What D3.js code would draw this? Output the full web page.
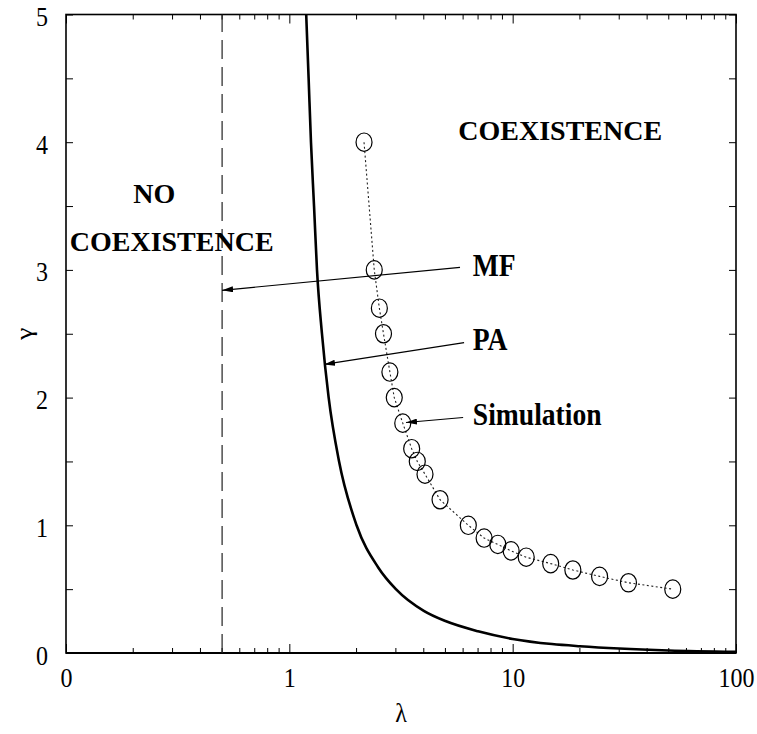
<!DOCTYPE html>
<html>
<head>
<meta charset="utf-8">
<script src="https://cdn.jsdelivr.net/npm/d3@7/dist/d3.min.js"></script>
<style>
  body { margin: 0; background: #fff; }
  svg { display: block; }
  text { font-family: "Liberation Serif", "Times New Roman", serif; }
</style>
</head>
<body>
<div id="chart"></div>
<script>

// simulation points
var lambdaSim = [2.16, 2.40, 2.53, 2.64, 2.82, 2.95, 3.22, 3.53, 3.74, 4.05, 4.73, 6.33, 7.45, 8.58, 9.84, 11.5, 14.8, 18.6, 24.5, 33.0, 52.1];
var gammaSim  = [4.0, 3.0, 2.7, 2.5, 2.2, 2.0, 1.8, 1.6, 1.5, 1.4, 1.2, 1.0, 0.9, 0.85, 0.8, 0.75, 0.7, 0.65, 0.6, 0.55, 0.5];

// PA curve
var lambdaPA = [1.19, 1.22, 1.25, 1.29, 1.33, 1.4, 1.5, 1.67, 2.0, 2.5, 3.0, 4.0, 5.0, 7.0, 10, 15, 20, 30, 50, 100];
var gammaPA  = [5.0, 4.5, 4.0, 3.5, 3.0, 2.5, 2.0, 1.5, 1.0, 0.67, 0.5, 0.33, 0.25, 0.17, 0.11, 0.07, 0.053, 0.035, 0.02, 0.01];

// MF line
var lambdaMF = 0.5;

// ticks
var xTicks = [0.1, 1, 10, 100];
var xTickLabels = ["0", "1", "10", "100"];
var yTicks = [0, 0.5, 1, 1.5, 2, 2.5, 3, 3.5, 4, 4.5, 5];
var yTickLabels = ["0", "", "1", "", "2", "", "3", "", "4", "", "5"];

// annotations: text and arrows, in data units
var labelText   = ["COEXISTENCE", "NO", "COEXISTENCE", "MF", "PA", "Simulation"];
var labelLambda = [5.71, 0.2, 0.104, 6.63, 6.63, 6.63];
var labelGamma  = [4.02, 3.52, 3.15, 2.95, 2.37, 1.785];
var arrowFromL = [5.81, 6.06, 6.0];
var arrowFromG = [3.02, 2.43, 1.844];
var arrowToL   = [0.5, 1.43, 3.33];
var arrowToG   = [2.84, 2.26, 1.805];

var fullWidth = 757, fullHeight = 734;
var margin = {top: 14.5, right: 21, bottom: 81, left: 66};
var width = fullWidth - margin.left - margin.right;
var height = fullHeight - margin.top - margin.bottom;

var svg = d3.select("#chart").append("svg")
  .attr("width", fullWidth)
  .attr("height", fullHeight);

var g = svg.append("g")
  .attr("transform", "translate(" + margin.left + "," + margin.top + ")");

var xScale = d3.scaleLog().domain([0.1, 100]).range([0, width]);
var yScale = d3.scaleLinear().domain([0, 5]).range([height, 0]);

// arrow head
svg.append("defs").append("marker")
  .attr("id", "arr")
  .attr("markerUnits", "userSpaceOnUse")
  .attr("viewBox", "0 0 11 6")
  .attr("markerWidth", 11).attr("markerHeight", 6)
  .attr("refX", 11).attr("refY", 3)
  .attr("orient", "auto")
  .append("path").attr("d", "M0,0 L11,3 L0,6 Z").attr("fill", "#000");

// axes (ticks point inward)
var xAxisB = d3.axisBottom(xScale).tickValues(xTicks).tickSizeInner(-9).tickSizeOuter(0)
  .tickFormat(function(d, i) { return xTickLabels[i]; });
var xAxisT = d3.axisTop(xScale).tickValues(xTicks).tickSizeInner(-9).tickSizeOuter(0).tickFormat("");
var yAxisL = d3.axisLeft(yScale).tickValues(yTicks).tickSizeInner(-7).tickSizeOuter(0)
  .tickFormat(function(d, i) { return yTickLabels[i]; });
var yAxisR = d3.axisRight(yScale).tickValues(yTicks).tickSizeInner(-7).tickSizeOuter(0).tickFormat("");

var gxb = g.append("g").attr("transform", "translate(0," + height + ")").call(xAxisB);
g.append("g").call(xAxisT);
var gyl = g.append("g").call(yAxisL);
g.append("g").attr("transform", "translate(" + width + ",0)").call(yAxisR);

g.selectAll(".domain").remove();
g.selectAll(".tick line").attr("stroke", "#000").attr("stroke-width", 1);

gxb.selectAll("text")
  .attr("y", null).attr("dy", null)
  .attr("transform", "translate(0,34) scale(1,1.17)")
  .attr("font-size", 24).attr("font-family", null).attr("fill", "#000");
gyl.selectAll("text")
  .attr("x", null).attr("dy", null)
  .attr("text-anchor", "end")
  .attr("transform", "translate(-18,11) scale(1,1.17)")
  .attr("font-size", 24).attr("font-family", null).attr("fill", "#000");

// minor ticks on log axis
var minor = [];
[0.1, 1, 10].forEach(function(dec) {
  for (var k = 2; k <= 9; k++) minor.push(dec * k);
});
g.selectAll(".minB").data(minor).enter().append("line")
  .attr("x1", function(d) { return xScale(d); }).attr("x2", function(d) { return xScale(d); })
  .attr("y1", height).attr("y2", height - 5)
  .attr("stroke", "#000").attr("stroke-width", 1);
g.selectAll(".minT").data(minor).enter().append("line")
  .attr("x1", function(d) { return xScale(d); }).attr("x2", function(d) { return xScale(d); })
  .attr("y1", 0).attr("y2", 5)
  .attr("stroke", "#000").attr("stroke-width", 1);

// frame
g.append("rect").attr("width", width).attr("height", height)
  .attr("fill", "none").attr("stroke", "#000").attr("stroke-width", 1.6);
g.append("line").attr("x1", 0).attr("x2", width).attr("y1", height).attr("y2", height)
  .attr("stroke", "#000").attr("stroke-width", 2.2);

// MF dashed line
g.append("line")
  .attr("x1", xScale(lambdaMF)).attr("x2", xScale(lambdaMF))
  .attr("y1", yScale(0)).attr("y2", yScale(5))
  .attr("stroke", "#222").attr("stroke-width", 1.2)
  .attr("stroke-dasharray", "19,8");

// PA curve
var paData = lambdaPA.map(function(l, i) { return [l, gammaPA[i]]; });
var line = d3.line()
  .x(function(d) { return xScale(d[0]); })
  .y(function(d) { return yScale(d[1]); })
  .curve(d3.curveMonotoneX);
g.append("path").datum(paData).attr("d", line)
  .attr("fill", "none").attr("stroke", "#000").attr("stroke-width", 2.6);

// simulation
var simData = lambdaSim.map(function(l, i) { return [l, gammaSim[i]]; });
g.append("path").datum(simData).attr("d", d3.line()
    .x(function(d) { return xScale(d[0]); })
    .y(function(d) { return yScale(d[1]); }))
  .attr("fill", "none").attr("stroke", "#222").attr("stroke-width", 1.1)
  .attr("stroke-dasharray", "2,2.5");
g.selectAll(".sim").data(simData).enter().append("ellipse")
  .attr("cx", function(d) { return xScale(d[0]); })
  .attr("cy", function(d) { return yScale(d[1]); })
  .attr("rx", 8).attr("ry", 9.2)
  .attr("fill", "none").attr("stroke", "#000").attr("stroke-width", 1.2);

// arrows
arrowFromL.forEach(function(l, i) {
  g.append("line")
    .attr("x1", xScale(l)).attr("y1", yScale(arrowFromG[i]))
    .attr("x2", xScale(arrowToL[i])).attr("y2", yScale(arrowToG[i]))
    .attr("stroke", "#000").attr("stroke-width", 1.2)
    .attr("marker-end", "url(#arr)");
});

// labels
labelText.forEach(function(t, i) {
  var big = t == "COEXISTENCE" || t == "NO";
  g.append("text")
    .attr("transform", "translate(" + xScale(labelLambda[i]) + "," + yScale(labelGamma[i]) + ") scale(1," + (big ? 0.95 : 1.15) + ")")
    .attr("font-size", big ? 28 : 27.6)
    .attr("font-weight", "bold")
    .text(t);
});

// axis titles
svg.append("text")
  .attr("transform", "translate(" + (margin.left + width / 2) + ",722) scale(1,1.17)")
  .attr("text-anchor", "middle").attr("font-size", 24)
  .text("λ");
svg.append("text")
  .attr("transform", "translate(32," + (margin.top + height / 2) + ") rotate(-90) scale(1.17,1)")
  .attr("text-anchor", "middle").attr("font-size", 24)
  .text("γ");

</script>
</body>
</html>
